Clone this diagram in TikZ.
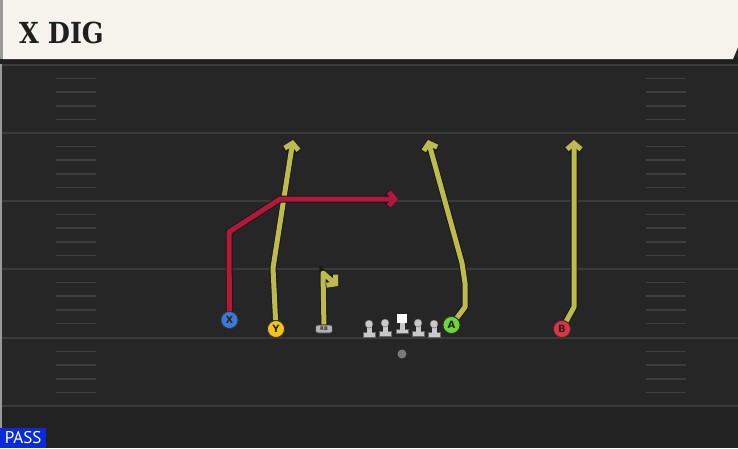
\documentclass[tikz,border=0pt]{standalone}
\usepackage{fontspec}
\usepackage{graphicx}
\usetikzlibrary{arrows.meta}
\newfontfamily\titlefont{DejaVu Serif}
\newfontfamily\passfont{PT Sans}
\newfontfamily\plfont{DejaVu Sans}
\definecolor{field}{HTML}{262626}
\definecolor{fieldlow}{HTML}{222222}
\definecolor{yard}{HTML}{3A3A3A}
\definecolor{hashc}{HTML}{3E3E3E}
\definecolor{cream}{HTML}{F5F3EC}
\definecolor{olive}{HTML}{BDBB4D}
\definecolor{routered}{HTML}{B3173A}
\definecolor{xblue}{HTML}{3D7AD6}
\definecolor{yyellow}{HTML}{F2C31B}
\definecolor{agreen}{HTML}{6CD63B}
\definecolor{bred}{HTML}{E1323F}
\definecolor{lineman}{HTML}{C9C9C9}
\definecolor{passblue}{HTML}{0B2BD8}
\definecolor{ballgray}{HTML}{7A7A7A}
\tikzset{
  route/.style={line width=5pt, line join=round,
    preaction={draw=black!90, line width=7pt},
    -{Straight Barb[length=6pt,width=14pt]}},
  player/.style={circle, minimum size=17pt, inner sep=0pt, draw=black!80,
    line width=0.8pt, font=\plfont\bfseries\fontsize{10}{10}\selectfont, text=black!85},
  rbbox/.style={fill=black!30, draw=black!80, line width=0.6pt, rounded corners=2.5pt,
    minimum width=17pt, minimum height=8pt, inner sep=0pt,
    font=\plfont\bfseries\fontsize{5}{5}\selectfont, text=black!80},
  yardline/.style={draw=yard, line width=2pt},
  hashmark/.style={draw=hashc, line width=1.5pt},
  lman/.pic={
    \fill[lineman, draw=black!60, line width=0.4pt] (-6,8) rectangle (6,13);
    \fill[lineman] (-2.5,0) rectangle (2.5,10);
    \fill[lineman, draw=black!60, line width=0.4pt] (0,0) circle (4);
  },
  cman/.pic={
    \fill[lineman, draw=black!60, line width=0.4pt] (-6,5) rectangle (6,9);
    \fill[lineman] (-2.5,-1) rectangle (2.5,6);
    \fill[white] (-5,-10) rectangle (5,-1);
  }
}
\begin{document}
\begin{tikzpicture}[x=1pt,y=-1pt]
\useasboundingbox (0,0) rectangle (738,448);
% field
\fill[field] (0,0) rectangle (738,448);
\fill[fieldlow] (0,406) rectangle (738,448);
\fill[black!40] (0,60) rectangle (2,448);
% header
\fill[black!88] (0,58) rectangle (738,64);
\fill[black!40] (0,0) rectangle (3,59);
\fill[cream] (3,0) -- (738,0) -- (738,47) -- (733,59) -- (3,59) -- cycle;
\node[anchor=base west, inner sep=0pt, text=black!88,
  font=\titlefont\bfseries\fontsize{29}{29}\selectfont] (title) at (19,43)
  {\scalebox{0.88}[1]{X DIG}};
% yard lines
\foreach \y in {65,133,201,269,338,406} {
  \draw[yardline] (2,\y) -- (738,\y);
}
% hash marks
\foreach \y in {65,133,201,269,338} {
  \foreach \k in {1,2,3,4} {
    \draw[hashmark] (56,{\y+\k*13.6}) -- (96,{\y+\k*13.6});
    \draw[hashmark] (646,{\y+\k*13.6}) -- (686,{\y+\k*13.6});
  }
}
% players
\node[player, fill=xblue] (X) at (229.5,320) {X};
\node[player, fill=yyellow] (Y) at (276,329) {Y};
\node[player, fill=agreen] (A) at (451.5,325) {A};
\node[player, fill=bred] (B) at (562,329) {B};
\node[rbbox] (RB) at (324,329) {RB};
% line
\pic (L1) at (369,324) {lman};
\pic (L2) at (385,323) {lman};
\pic (C)  at (402,324) {cman};
\pic (L4) at (418,323) {lman};
\pic (L5) at (434,324) {lman};
\fill[ballgray] (402,354) circle (4.5);
% route waypoints
\coordinate (x1) at (229,232);
\coordinate (x2) at (280,199);
\coordinate (x3) at (398,199);
\coordinate (y1) at (273,268);
\coordinate (y2) at (293,140);
\coordinate (r1) at (323,273);
\coordinate (r2) at (338,286);
\coordinate (a1) at (465,307);
\coordinate (a2) at (465,283);
\coordinate (a3) at (462,263);
\coordinate (a4) at (428,140);
\coordinate (b1) at (574,307);
\coordinate (b2) at (574,140);
% routes
\draw[route, draw=olive] (Y) -- (y1) -- (y2);
\draw[route, draw=olive] (RB) -- (r1) -- (r2);
\draw[route, draw=olive] (A) -- (a1) -- (a2) -- (a3) -- (a4);
\draw[route, draw=olive] (B) -- (b1) -- (b2);
\draw[route, draw=routered] (X) -- (x1) -- (x2) -- (x3);
% redraw players on top
\node[player, fill=xblue] at (X) {X};
\node[player, fill=yyellow] at (Y) {Y};
\node[player, fill=agreen] at (A) {A};
\node[player, fill=bred] at (B) {B};
\node[rbbox] at (RB) {RB};
% pass label
\node[fill=passblue, text=white, anchor=south west, minimum width=46pt,
  minimum height=20pt, inner sep=0pt, font=\passfont\fontsize{17}{17}\selectfont]
  (pass) at (0,448) {PASS};
\end{tikzpicture}
\end{document}
